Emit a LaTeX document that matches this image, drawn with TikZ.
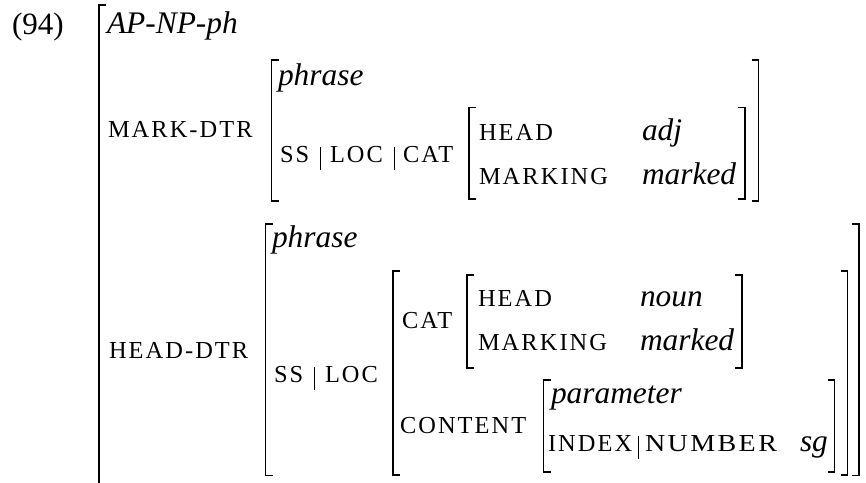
\documentclass[tikz,border=0pt]{standalone}
\usepackage{fontspec}
\usepackage{graphicx}
\setmainfont{Liberation Serif}
\newfontfamily\featfont[LetterSpace=8.5]{Liberation Serif}
\newcommand{\featsize}{\featfont\fontsize{12.2}{14}\selectfont}
\newcommand{\valsize}{\fontsize{15.7}{18}\selectfont\itshape}
\newcommand{\numsize}{\fontsize{15.5}{18}\selectfont}
\newcommand{\avmlbr}[3]{\draw[brk] (#1+7,#2) -- (#1,#2) -- (#1,#3) -- (#1+7,#3);}
\newcommand{\avmrbr}[3]{\draw[brk] (#1-7,#2) -- (#1,#2) -- (#1,#3) -- (#1-7,#3);}
\newcommand{\pathbar}[2]{\draw[pbar] (#1,#2-15) -- (#1,#2+8);}
\begin{document}
\begin{tikzpicture}[x=0.5pt,y=-0.5pt,
  feat/.style={anchor=base west,inner sep=0pt,outer sep=0pt,font=\featsize},
  val/.style={anchor=base west,inner sep=0pt,outer sep=0pt,font=\valsize},
  num/.style={anchor=base west,inner sep=0pt,outer sep=0pt,font=\numsize},
  brk/.style={line width=0.75pt,line cap=butt,line join=miter},
  pbar/.style={line width=0.45pt}]
\useasboundingbox (0,0) rectangle (866,482);
% example number and outer type
\node[num] (ex) at (12,34) {(94)};
\draw[brk] (106,5) -- (99,5) -- (99,484);
\node[val] (type) at (107,33) {AP-NP-ph};
% MARK-DTR
\node[feat] (markdtr) at (108,137) {MARK-DTR};
\avmlbr{271.5}{60}{201}
\avmrbr{758.5}{60}{201}
\node[val] (mphrase) at (278,85) {phrase};
\node[feat] (mss) at (280,162) {SS};
\pathbar{320.7}{162}
\node[feat] (mloc) at (330,162) {LOC};
\pathbar{394}{162}
\node[feat] (mcat) at (403,162) {CAT};
\avmlbr{469}{107.5}{199}
\avmrbr{745}{107.5}{199}
\node[feat] (mhead) at (479,140) {HEAD};
\node[val] (adj) at (642,140) {adj};
\node[feat] (mmarking) at (479,184) {MARKING};
\node[val] (mmarked) at (642,184) {marked};
% HEAD-DTR
\node[feat] (headdtr) at (109,358) {HEAD-DTR};
\avmlbr{265.5}{224}{475.5}
\avmrbr{859}{224}{475.5}
\node[val] (hphrase) at (272,247) {phrase};
\node[feat] (hss) at (274,382) {SS};
\pathbar{314.3}{382}
\node[feat] (hloc) at (325,382) {LOC};
\avmlbr{393}{271}{475}
\avmrbr{847.5}{271}{475}
\node[feat] (hcat) at (402,328) {CAT};
\avmlbr{467}{275}{368}
\avmrbr{742}{275}{368}
\node[feat] (hhead) at (478,306) {HEAD};
\node[val] (noun) at (640,306) {noun};
\node[feat] (hmarking) at (478,350) {MARKING};
\node[val] (hmarked) at (640,350) {marked};
\node[feat] (content) at (400,433) {CONTENT};
\avmlbr{543.5}{380}{472}
\avmrbr{834.5}{380}{472}
\node[val] (param) at (551,403) {parameter};
\node[feat] (index) at (548,451) {INDEX};
\pathbar{638.3}{451}
\node[feat] (number) at (645,451) {\scalebox{1.15}[1]{NUMBER}};
\node[val] (sg) at (800,451) {sg};
\end{tikzpicture}
\end{document}
